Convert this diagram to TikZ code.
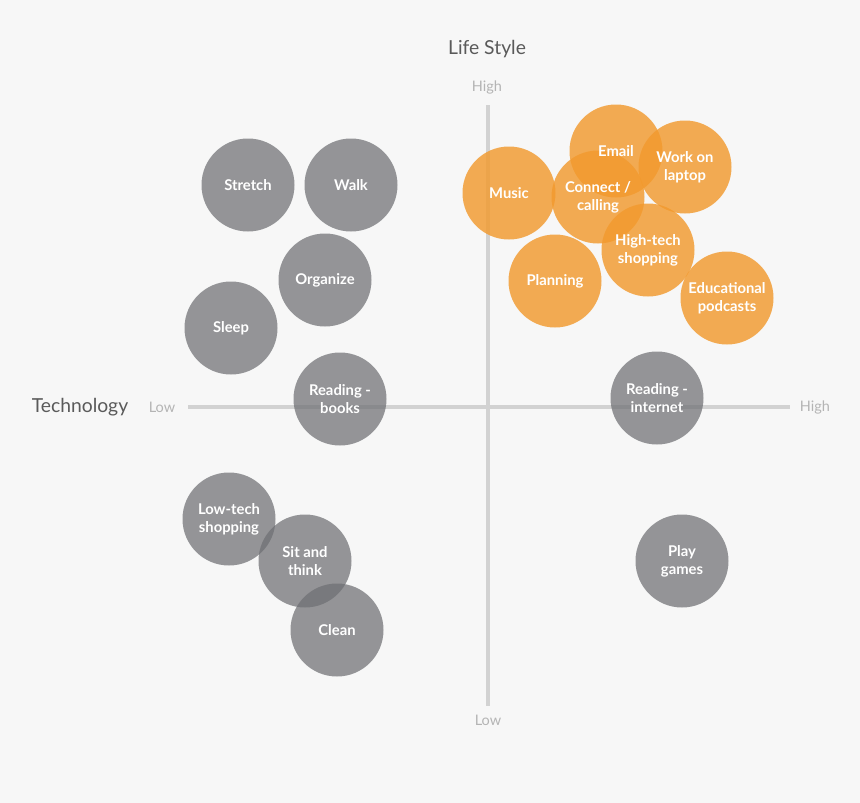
\documentclass[tikz,border=0pt]{standalone}
\usepackage{fontspec}
\setmainfont{Lato}
\begin{document}
\begin{tikzpicture}[x=1pt,y=-1pt,
  bub/.style={circle,minimum size=93pt,inner sep=0pt},
  grayb/.style={bub,fill=gray6,fill opacity=0.72},
  orb/.style={bub,fill=orng,fill opacity=0.82},
  btext/.style={align=center,text=white,inner sep=0pt,font=\bfseries\fontsize{14.8}{18}\selectfont},
  axis/.style={draw=axisc,line width=4pt},
  tick/.style={text=tickc,font=\fontsize{14.5}{16}\selectfont},
  title/.style={text=titlec,font=\fontsize{19.3}{22}\selectfont}]
\definecolor{bgc}{HTML}{F7F7F7}
\definecolor{gray6}{HTML}{6E6F73}
\definecolor{orng}{HTML}{F29A2E}
\definecolor{axisc}{HTML}{D2D2D2}
\definecolor{tickc}{HTML}{B4B4B4}
\definecolor{titlec}{HTML}{5A5A5A}
\fill[bgc] (0,0) rectangle (860,803);
\useasboundingbox (0,0) rectangle (860,803);
% axes
\coordinate (hl) at (188,407);
\coordinate (hr) at (790,407);
\coordinate (vt) at (488,105);
\coordinate (vb) at (488,706);
\draw[axis] (hl) -- (hr);
\draw[axis] (vt) -- (vb);
\node[title] (ls) at (487,49) {Life Style};
\node[tick] (yh) at (487,87) {High};
\node[tick] (yl) at (488,720) {Low};
\node[title] (tech) at (80,407) {Technology};
\node[tick] (xl) at (162,407) {Low};
\node[tick] (xh) at (815,407) {High};
% gray bubbles
\node[grayb] (stretch) at (248,185) {};
\node[grayb] (walk) at (351,185) {};
\node[grayb] (organize) at (325,280) {};
\node[grayb] (sleep) at (231,328) {};
\node[grayb] (rbooks) at (340,399) {};
\node[grayb] (rint) at (657,398) {};
\node[grayb] (lowtech) at (229,519) {};
\node[grayb] (sit) at (305,561) {};
\node[grayb] (clean) at (337,630) {};
\node[grayb] (play) at (682,561) {};
% orange bubbles
\node[orb] (music) at (509,193) {};
\node[orb] (email) at (616,151) {};
\node[orb] (work) at (685,167) {};
\node[orb] (connect) at (598,197) {};
\node[orb] (hightech) at (648,250) {};
\node[orb] (planning) at (555,281) {};
\node[orb] (edu) at (727,298) {};
% labels
\node[btext] (stretch-t) at (stretch.center) {Stretch};
\node[btext] (walk-t) at (walk.center) {Walk};
\node[btext] (organize-t) at (organize.center) {Organize};
\node[btext] (sleep-t) at (sleep.center) {Sleep};
\node[btext] (rbooks-t) at (rbooks.center) {Reading -\\books};
\node[btext] (rint-t) at (rint.center) {Reading -\\internet};
\node[btext] (lowtech-t) at (lowtech.center) {Low-tech\\shopping};
\node[btext] (sit-t) at (sit.center) {Sit and\\think};
\node[btext] (clean-t) at (clean.center) {Clean};
\node[btext] (play-t) at (play.center) {Play\\games};
\node[btext] (music-t) at (music.center) {Music};
\node[btext] (email-t) at (email.center) {Email};
\node[btext] (work-t) at (work.center) {Work on\\laptop};
\node[btext] (connect-t) at (connect.center) {Connect /\\calling};
\node[btext] (hightech-t) at (hightech.center) {High-tech\\shopping};
\node[btext] (planning-t) at (planning.center) {Planning};
\node[btext] (edu-t) at (edu.center) {Educational\\podcasts};
\end{tikzpicture}
\end{document}
